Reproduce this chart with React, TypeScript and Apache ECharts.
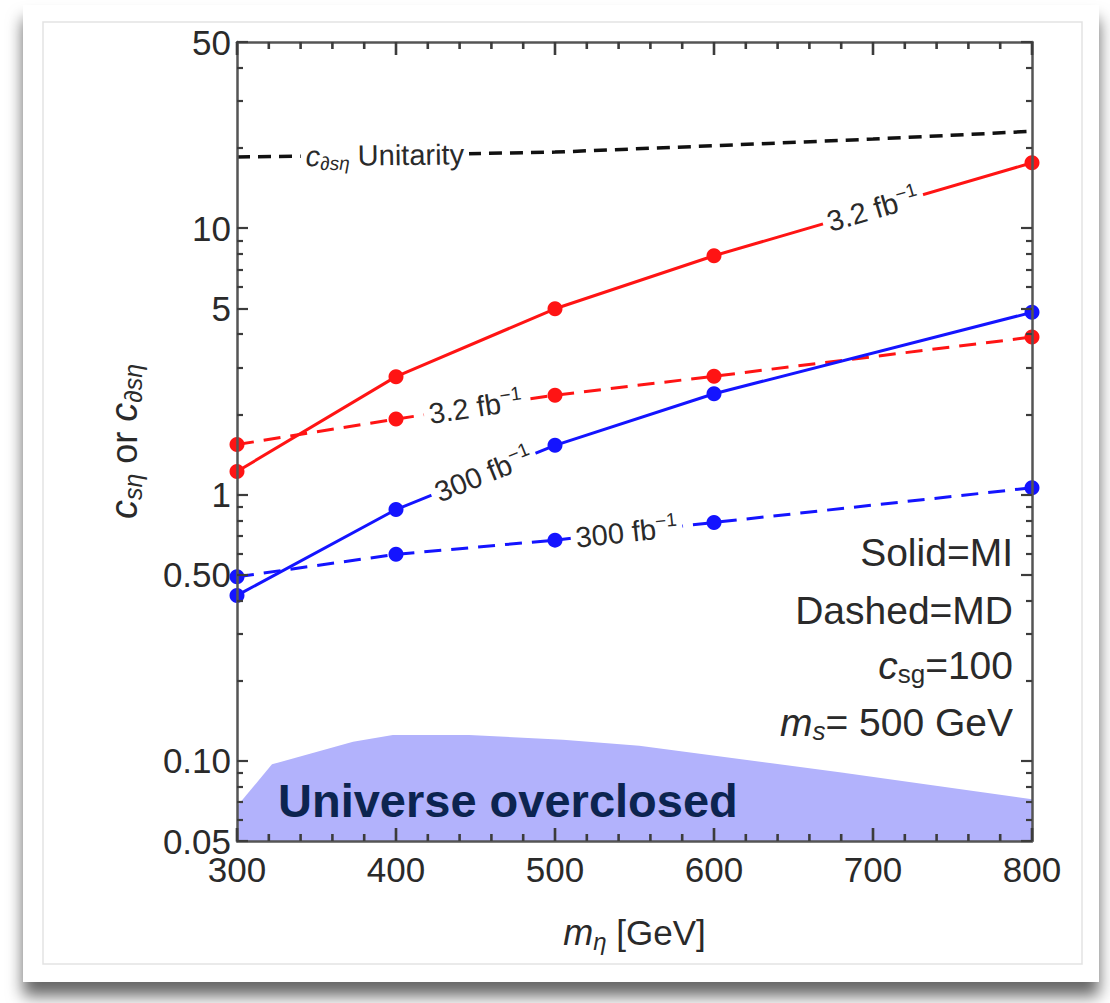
import React, { useEffect, useRef } from "react";
import * as echarts from "echarts";

// ---- data -------------------------------------------------------------
const massPoints = [300, 400, 500, 600, 800];
const miLowLumi = [1.22, 2.77, 4.98, 7.88, 17.6]; // solid red, 3.2 fb^-1
const mdLowLumi = [1.54, 1.92, 2.36, 2.78, 3.9]; // dashed red, 3.2 fb^-1
const miHighLumi = [0.418, 0.878, 1.53, 2.39, 4.83]; // solid blue, 300 fb^-1
const mdHighLumi = [0.491, 0.596, 0.674, 0.785, 1.06]; // dashed blue, 300 fb^-1

const unitarityMass = [300, 400, 500, 600, 700, 800];
const unitarityBound = [18.5, 18.8, 19.3, 20.4, 21.6, 23.1];

const overclosedMass = [300, 322, 373, 398, 446, 505, 553, 679, 800];
const overclosedBound = [0.0675, 0.097, 0.118, 0.125, 0.125, 0.12, 0.114, 0.0906, 0.0718];

const xMajorTicks = [300, 400, 500, 600, 700, 800];
const xMinorTicks = [
  320, 340, 360, 380, 420, 440, 460, 480, 520, 540, 560, 580,
  620, 640, 660, 680, 720, 740, 760, 780,
];
const yMajorTicks = [0.05, 0.1, 0.5, 1, 5, 10, 50];
const yTickLabels = ["0.05", "0.10", "0.50", "1", "5", "10", "50"];
const yMinorTicks = [0.06, 0.07, 0.08, 0.09, 0.2, 0.3, 0.4, 0.6, 0.7, 0.8, 0.9, 2, 3, 4, 6, 7, 8, 9, 20, 30, 40];

const X_MIN = 300;
const X_MAX = 800;
const Y_MIN = 0.05;
const Y_MAX = 50;

// ---- style ------------------------------------------------------------
const FONT = '"Liberation Sans", Arial, Helvetica, sans-serif';
const AXIS = "#555555";
const TICK = "#3c3c3c";
const INK = "#2a2a2a";
const RED = "#ff1414";
const BLUE = "#1414ff";
const MAJOR_LEN = 13;
const MINOR_LEN = 7;
const TICK_W = 2.6;

const lg = Math.log10;
const pairs = (xs: number[], ys: number[]) => xs.map((x, i) => [x, ys[i]]);

type LineLabel = { series: string; xs: number[]; ys: number[]; i: number; t: number; text: string };

const lineLabels: LineLabel[] = [
  { series: "unitarity", xs: unitarityMass, ys: unitarityBound, i: 0, t: 0.93, text: "{i|c}{sub|∂sη} Unitarity" },
  { series: "miLow", xs: massPoints, ys: miLowLumi, i: 3, t: 0.5, text: "3.2 fb{sup|−1}" },
  { series: "mdLow", xs: massPoints, ys: mdLowLumi, i: 1, t: 0.5, text: "3.2 fb{sup|−1}" },
  { series: "miHigh", xs: massPoints, ys: miHighLumi, i: 1, t: 0.55, text: "300 fb{sup|−1}" },
  { series: "mdHigh", xs: massPoints, ys: mdHighLumi, i: 2, t: 0.45, text: "300 fb{sup|−1}" },
];

const labelRich = {
  i: { fontStyle: "italic", fontSize: 29, fontFamily: FONT, color: INK, lineHeight: 34 },
  sub: { fontStyle: "italic", fontSize: 19, fontFamily: FONT, color: INK, lineHeight: 12, verticalAlign: "bottom" },
  sup: { fontSize: 19, fontFamily: FONT, color: INK, lineHeight: 10, verticalAlign: "top" },
};

function buildOption() {
  const majorLog = yMajorTicks.map(lg);
  const minorLog = yMinorTicks.map(lg);
  const tickLabelOf = (v: number) => {
    const k = majorLog.findIndex((m) => Math.abs(m - v) < 1e-6);
    return k >= 0 ? yTickLabels[k] : "";
  };
  const lineAxis = { show: true, onZero: false, lineStyle: { color: AXIS, width: 2.5 } };
  const noLine = { show: false, onZero: false };
  const tickLine = { color: TICK, width: 2.2 };

  const logRangeAxis = (position: string, ticks: number[], len: number, withLabels: boolean, withLine: boolean) => ({
    type: "value",
    position,
    z: 6,
    min: lg(Y_MIN),
    max: lg(Y_MAX),
    axisLine: withLine ? lineAxis : noLine,
    axisTick: { show: true, inside: true, length: len, customValues: ticks, lineStyle: tickLine },
    axisLabel: withLabels
      ? { show: true, customValues: ticks, formatter: tickLabelOf, fontSize: 35, color: INK, fontFamily: FONT, margin: 6 }
      : { show: false },
    splitLine: { show: false },
  });

  const massAxis = (position: string, withLabels: boolean) => ({
    type: "value",
    position,
    z: 6,
    min: X_MIN,
    max: X_MAX,
    axisLine: lineAxis,
    axisTick: { show: false },
    axisLabel: withLabels
      ? { show: true, customValues: xMajorTicks, fontSize: 35, color: INK, fontFamily: FONT, margin: 11 }
      : { show: false },
    splitLine: { show: false },
  });

  const yTitleAxis: any = logRangeAxis("left", majorLog, 11, true, true);
  yTitleAxis.name = "{i|c}{sub|sη} or {i|c}{sub|∂sη}";
  yTitleAxis.nameLocation = "middle";
  yTitleAxis.nameRotate = 90;
  yTitleAxis.nameGap = 92;
  yTitleAxis.nameTextStyle = {
    fontSize: 36,
    color: INK,
    fontFamily: FONT,
    lineHeight: 42,
    rich: {
      i: { fontStyle: "italic", fontSize: 38, fontFamily: FONT, color: INK, lineHeight: 42 },
      sub: { fontStyle: "italic", fontSize: 25, fontFamily: FONT, color: INK, lineHeight: 14, verticalAlign: "bottom" },
    },
  };

  const xBottom: any = massAxis("bottom", true);
  xBottom.name = "{i|m}{sub|η} [GeV]";
  xBottom.nameLocation = "middle";
  xBottom.nameGap = 70;
  xBottom.nameTextStyle = {
    fontSize: 35,
    color: INK,
    fontFamily: FONT,
    lineHeight: 42,
    rich: {
      i: { fontStyle: "italic", fontSize: 36, fontFamily: FONT, color: INK, lineHeight: 42 },
      sub: { fontStyle: "italic", fontSize: 24, fontFamily: FONT, color: INK, lineHeight: 12, verticalAlign: "bottom" },
    },
  };

  const markerLine = (id: string, ys: number[], color: string, dashed: boolean) => ({
    id,
    type: "line",
    xAxisIndex: 0,
    yAxisIndex: 0,
    data: pairs(massPoints, ys),
    symbol: "circle",
    symbolSize: 15,
    showSymbol: true,
    itemStyle: { color },
    lineStyle: { color, width: 3, type: dashed ? [17, 10] : "solid" },
    z: 4,
  });

  return {
    animation: false,
    backgroundColor: "transparent",
    textStyle: { fontFamily: FONT },
    grid: { left: 237, top: 42, right: 78, bottom: 162, outerBoundsMode: "none" },
    xAxis: [xBottom, massAxis("top", false)],
    yAxis: [
      { type: "log", min: Y_MIN, max: Y_MAX, logBase: 10, show: false },
      yTitleAxis,
      logRangeAxis("left", minorLog, 6, false, false),
      logRangeAxis("right", majorLog, 11, false, true),
      logRangeAxis("right", minorLog, 6, false, false),
    ],
    series: [
      {
        id: "overclosed",
        type: "line",
        xAxisIndex: 0,
        yAxisIndex: 0,
        data: pairs(overclosedMass, overclosedBound),
        symbol: "none",
        lineStyle: { width: 0 },
        areaStyle: { color: "#b2b2fc", opacity: 1, origin: "start" },
        z: 1,
      },
      {
        id: "unitarity",
        type: "line",
        xAxisIndex: 0,
        yAxisIndex: 0,
        data: pairs(unitarityMass, unitarityBound),
        symbol: "none",
        lineStyle: { color: "#111", width: 3.5, type: [13, 8] },
        z: 3,
      },
      markerLine("miLow", miLowLumi, RED, false),
      markerLine("mdLow", mdLowLumi, RED, true),
      markerLine("miHigh", miHighLumi, BLUE, false),
      markerLine("mdHigh", mdHighLumi, BLUE, true),
    ],
  };
}

function staticGraphics() {
  const note = (id: string, text: string, y: number) => ({
    id,
    type: "text",
    x: 1013,
    y,
    z: 10,
    silent: true,
    style: {
      text,
      fontSize: 39,
      fontFamily: FONT,
      fill: INK,
      align: "right",
      textAlign: "right",
      verticalAlign: "middle",
      textVerticalAlign: "middle",
      rich: {
        i: { fontStyle: "italic", fontSize: 39, fontFamily: FONT, fill: INK, color: INK, lineHeight: 44 },
        sub: { fontSize: 26, fontFamily: FONT, fill: INK, color: INK, lineHeight: 14, verticalAlign: "bottom" },
        isub: { fontStyle: "italic", fontSize: 26, fontFamily: FONT, fill: INK, color: INK, lineHeight: 14, verticalAlign: "bottom" },
        n: { fontSize: 39, fontFamily: FONT, fill: INK, color: INK, lineHeight: 44 },
      },
    },
  });
  return [
    {
      id: "card",
      type: "rect",
      z: -20,
      silent: true,
      shape: { x: 23, y: 5, width: 1076, height: 977 },
      style: { fill: "#fff", shadowBlur: 16, shadowOffsetY: 14, shadowColor: "rgba(0,0,0,0.6)" },
    },
    {
      id: "frame",
      type: "rect",
      z: -19,
      silent: true,
      shape: { x: 43, y: 22, width: 1039, height: 942 },
      style: { fill: "#fff", stroke: "#e3e3e3", lineWidth: 1.5 },
    },
    note("n1", "{n|Solid=MI}", 552),
    note("n2", "{n|Dashed=MD}", 610),
    note("n3", "{i|c}{sub|sg}{n|=100}", 665),
    note("n4", "{i|m}{isub|s}{n|= 500 GeV}", 722),
    {
      id: "overclosedText",
      type: "text",
      x: 278,
      y: 800,
      z: 10,
      silent: true,
      style: {
        text: "Universe overclosed",
        fontSize: 47,
        fontWeight: "bold",
        fontFamily: FONT,
        fill: "#0c2450",
        align: "left",
        textAlign: "left",
        verticalAlign: "middle",
        textVerticalAlign: "middle",
      },
    },
  ];
}

export default function App() {
  const ref = useRef<HTMLDivElement>(null);

  useEffect(() => {
    if (!ref.current) return;
    const chart = echarts.init(ref.current, null, { renderer: "svg" });
    chart.setOption(buildOption() as any);

    // Pixel positions come from the series' own cartesian system.
    const toPx = (x: number, y: number) =>
      chart.convertToPixel({ seriesId: "unitarity" }, [x, y]) as number[];

    // Mass-axis tick marks, drawn inward from the bottom and the top frame edges.
    const yBottom = toPx(X_MIN, Y_MIN)[1];
    const yTop = toPx(X_MIN, Y_MAX)[1];
    const tickBars: any[] = [];
    const addTicks = (values: number[], len: number, tag: string) => {
      values.forEach((v, k) => {
        const x = toPx(v, Y_MIN)[0];
        tickBars.push(
          {
            id: `tb-${tag}-${k}`,
            type: "line",
            z: 12,
            silent: true,
            shape: { x1: x, y1: yBottom, x2: x + 0.01, y2: yBottom - len },
            style: { stroke: TICK, lineWidth: TICK_W },
          },
          {
            id: `tt-${tag}-${k}`,
            type: "line",
            z: 12,
            silent: true,
            shape: { x1: x, y1: yTop, x2: x + 0.01, y2: yTop + len },
            style: { stroke: TICK, lineWidth: TICK_W },
          },
        );
      });
    };
    addTicks(xMajorTicks, MAJOR_LEN, "maj");
    addTicks(xMinorTicks, MINOR_LEN, "min");

    // Contour-style labels sit on the curves, rotated along the local segment.
    const onCurve = lineLabels.map((lab, k) => {
      const p0 = chart.convertToPixel({ seriesId: lab.series }, [lab.xs[lab.i], lab.ys[lab.i]]) as number[];
      const p1 = chart.convertToPixel({ seriesId: lab.series }, [lab.xs[lab.i + 1], lab.ys[lab.i + 1]]) as number[];
      const x = p0[0] + (p1[0] - p0[0]) * lab.t;
      const y = p0[1] + (p1[1] - p0[1]) * lab.t;
      const angle = Math.atan2(-(p1[1] - p0[1]), p1[0] - p0[0]);
      return {
        id: "lab" + k,
        type: "text",
        x,
        y,
        rotation: angle,
        z: 10,
        silent: true,
        style: {
          text: lab.text,
          fontSize: 29,
          fontFamily: FONT,
          fill: INK,
          align: "center",
          textAlign: "center",
          verticalAlign: "middle",
          textVerticalAlign: "middle",
          backgroundColor: "#fff",
          padding: [0, 5, 0, 5],
          lineHeight: 34,
          rich: labelRich,
        },
      };
    });

    chart.setOption({ graphic: [...staticGraphics(), ...tickBars, ...onCurve] } as any);
    return () => chart.dispose();
  }, []);

  return (
    <div
      ref={ref}
      style={{ position: "absolute", left: 0, top: 0, width: 1110, height: 1003, background: "#fff" }}
    />
  );
}
